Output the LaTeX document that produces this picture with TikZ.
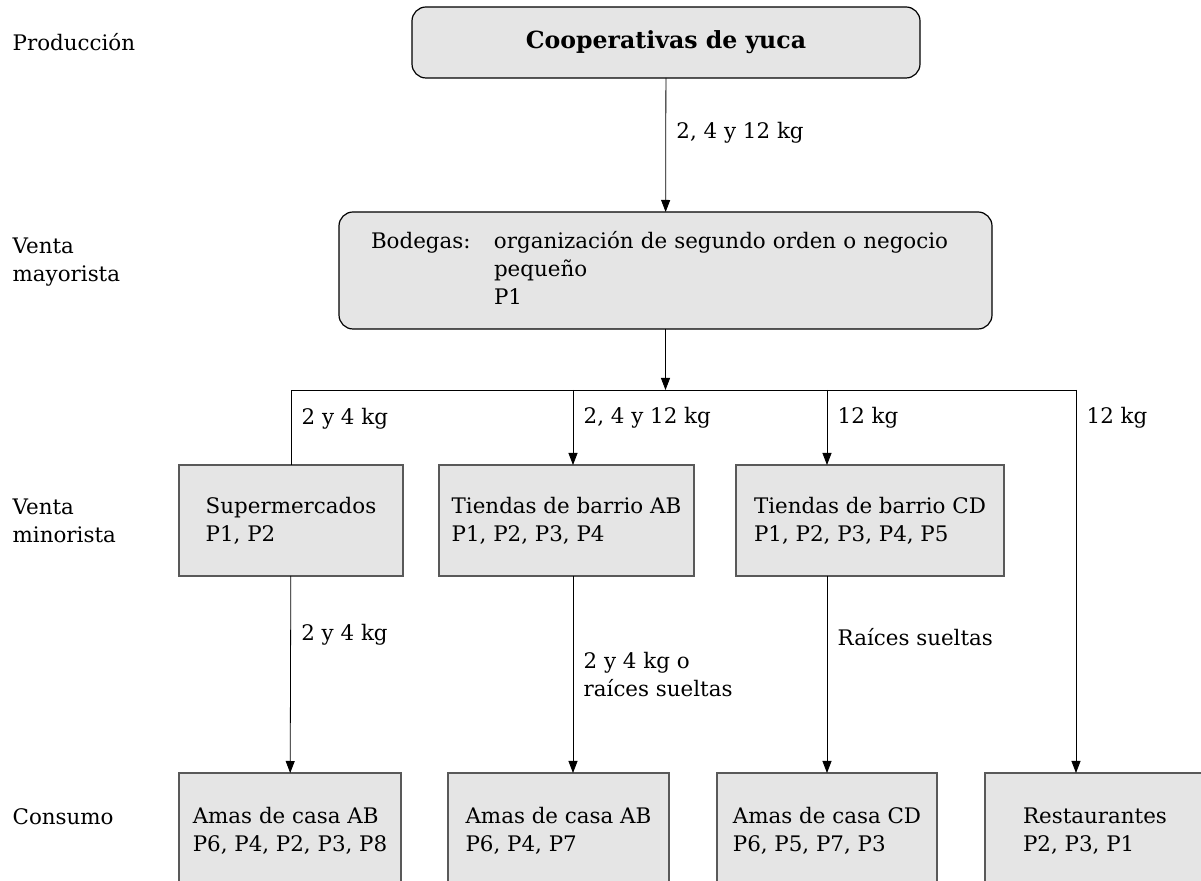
\documentclass[tikz,border=0pt]{standalone}
\usepackage{fontspec}
\setmainfont{DejaVu Serif}
\usetikzlibrary{arrows.meta}

\begin{document}
\begin{tikzpicture}[x=0.5pt, y=-0.5pt,
        every node/.style={font=\fontsize{10.7}{14}\selectfont, outer sep=0pt},
        arrow/.style={-{Triangle[width=4.5pt,length=6pt]}},
        roundbox/.style={draw=black, fill=gray!20, rounded corners=7pt, line width=0.6pt},
        box/.style={draw=black!65, fill=gray!20, line width=0.6pt, align=left},
        lbl/.style={anchor=west, xshift=2pt, align=left}]
        \useasboundingbox (0,0) rectangle (1201,881);

        % niveles de la cadena
        \node[anchor=west, align=left](niv_prod) at (6,42) {Producción};
        \node[anchor=west, align=left](niv_may) at (6,262) {Venta\\mayorista};
        \node[anchor=west, align=left](niv_min) at (6,521) {Venta\\minorista};
        \node[anchor=west, align=left](niv_cons) at (6,817) {Consumo};

        \node[roundbox, minimum width=254pt, minimum height=35.5pt, font=\fontsize{11.8}{14}\selectfont\bfseries](coop) at (666,42.5) {Cooperativas de yuca};
        \node[roundbox, minimum width=326.5pt, minimum height=58.5pt, inner xsep=16pt, text width=294.5pt, align=left](bodegas) at (665.5,270.5)
            {\begin{tabular}{@{}p{61.5pt}@{}l@{}}Bodegas: & organización de segundo orden o negocio\\ & pequeño\\ & P1\end{tabular}};

        \node[box, minimum width=112pt, minimum height=55.5pt](super) at (291,520.5) {Supermercados\\P1, P2};
        \node[box, minimum width=127.5pt, minimum height=55.5pt](tiendas_ab) at (566.5,520.5) {Tiendas de barrio AB\\P1, P2, P3, P4};
        \node[box, minimum width=134pt, minimum height=55.5pt](tiendas_cd) at (870,520.5) {Tiendas de barrio CD\\P1, P2, P3, P4, P5};

        \node[box, minimum width=111pt, minimum height=58pt](amas_ab1) at (290,831) {Amas de casa AB\\P6, P4, P2, P3, P8};
        \node[box, minimum width=110.5pt, minimum height=58pt](amas_ab2) at (558.5,831) {Amas de casa AB\\P6, P4, P7};
        \node[box, minimum width=110pt, minimum height=58pt](amas_cd) at (827,831) {Amas de casa CD\\P6, P5, P7, P3};
        \node[box, minimum width=110pt, minimum height=58pt](rest) at (1095,831) {Restaurantes\\P2, P3, P1};

        \coordinate (b_ab) at (573,390);
        \coordinate (b_cd) at (827,390);
        \coordinate (b_rest) at (1076,390);

        \draw[arrow] (coop) -- (bodegas) node[lbl, pos=0.41] {2, 4 y 12 kg};
        \draw[arrow] (bodegas) -- (bodegas.south |- b_ab);
        \draw (super.north) |- node[lbl, pos=0.31] {2 y 4 kg} (b_rest);
        \draw[arrow] (b_ab) -- (b_ab |- tiendas_ab.north) node[lbl, pos=0.37] {2, 4 y 12 kg};
        \draw[arrow] (b_cd) -- (b_cd |- tiendas_cd.north) node[lbl, pos=0.37] {12 kg};
        \draw[arrow] (b_rest) -- (b_rest |- rest.north) node[lbl, pos=0.073] {12 kg};

        \draw[arrow] (super) -- (amas_ab1) node[lbl, pos=0.3] {2 y 4 kg};
        \draw[arrow] (b_ab |- tiendas_ab.south) -- (b_ab |- amas_ab2.north) node[lbl, pos=0.5] {2 y 4 kg o\\raíces sueltas};
        \draw[arrow] (b_cd |- tiendas_cd.south) -- (amas_cd) node[lbl, pos=0.31] {Raíces sueltas};
    \end{tikzpicture}
\end{document}
